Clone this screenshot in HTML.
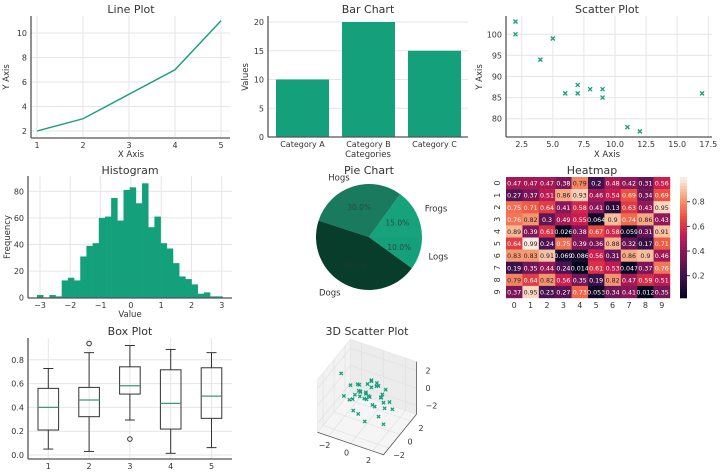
<!DOCTYPE html>
<html><head><meta charset="utf-8"><style>
html,body{margin:0;padding:0;background:#fff}
svg{display:block;font-family:"DejaVu Sans","Liberation Sans",sans-serif}
</style></head><body>
<svg id="s" width="720" height="474" viewBox="0 0 720 474"></svg>
<script>
// ---- data ----
const lineX=[1,2,3,4,5];
const lineY=[2,3,5,7,11];
const barCats=["Category A","Category B","Category C"];
const barVals=[10,20,15];
const scatX=[5,7,8,7,2,17,2,9,4,11,12,9,6];
const scatY=[99,86,87,88,100,86,103,87,94,78,77,85,86];
const histCounts=[2,0,2,1,13,15,13,31,39,41,60,61,75,58,81,83,71,86,53,61,41,37,26,16,14,10,3,4,1,1];
const histStart=-3.1, histEnd=3.02;
const pieLabels=["Frogs","Hogs","Dogs","Logs"];
const pieVals=[15,30,45,10];
const heat=[
[0.47,0.47,0.47,0.38,0.79,0.2,0.48,0.42,0.31,0.56],
[0.27,0.37,0.51,0.86,0.93,0.46,0.54,0.69,0.34,0.69],
[0.75,0.71,0.64,0.41,0.58,0.41,0.13,0.63,0.43,0.95],
[0.76,0.82,0.3,0.49,0.55,0.064,0.9,0.74,0.86,0.43],
[0.89,0.39,0.61,0.026,0.38,0.67,0.58,0.059,0.31,0.91],
[0.64,0.99,0.24,0.75,0.39,0.36,0.88,0.32,0.17,0.71],
[0.83,0.83,0.91,0.069,0.086,0.56,0.31,0.86,0.9,0.46],
[0.19,0.35,0.44,0.24,0.014,0.61,0.53,0.047,0.37,0.76],
[0.79,0.64,0.82,0.56,0.35,0.19,0.82,0.47,0.59,0.51],
[0.37,0.95,0.23,0.27,0.73,0.053,0.34,0.41,0.012,0.35]];
const boxHi=[0.727,0.86,0.92,0.887,0.86];
const boxQ3=[0.56,0.568,0.741,0.716,0.733];
const boxMed=[0.40,0.462,0.582,0.434,0.495];
const boxQ1=[0.21,0.322,0.512,0.218,0.308];
const boxLo=[0.05,0.03,0.294,0.014,0.062];
const boxOut=[[],[0.937],[0.134],[],[]];
const s3x=[-2.6,-1.5,-1,-0.5,0,0.4,0.8,1.2,-0.8,0.2,0.6,-0.3,1.0,-1.2,0.1,-0.6,0.5,1.5,2.2,-0.2,0.3,-1.6,0.9,-0.9,1.3,0.0,-0.4,0.7,-1.1,1.8,2.5,-2.0,0.4,-0.7,1.1,0.2,-0.1,1.6,-1.4,0.6];
const s3y=[0.5,-1.2,0.3,0.8,-0.5,1.0,-0.2,0.4,-0.9,0.1,1.4,-0.6,-1.0,0.9,0.6,-0.1,-1.4,0.2,-0.3,1.2,-0.8,0.0,0.7,0.4,-0.5,-1.6,1.6,0.3,-0.4,1.0,-2.0,1.8,-0.9,0.2,0.8,-0.3,0.5,-1.1,-0.2,2.2];
const s3z=[1.2,0.4,0.8,-0.3,0.2,1.0,-0.6,0.5,-1.2,0.0,-0.9,0.9,0.3,-0.5,1.5,-0.1,-1.5,-0.8,0.6,0.1,1.1,-1.0,-0.2,0.7,-1.3,-0.7,0.4,1.3,-0.4,-1.4,-0.5,-2.0,0.6,0.2,-0.8,1.8,-0.3,2.8,0.9,-0.6];

const S=document.getElementById('s');
const NS='http://www.w3.org/2000/svg';
const G='#13a07b', TXT='#333', GRID='#e6e6e6', SP='#555';
function el(tag,at,parent){const e=document.createElementNS(NS,tag);for(const k in at)e.setAttribute(k,at[k]);(parent||S).appendChild(e);return e;}
function tx(x,y,t,sz,anchor,parent,extra){const e=el('text',Object.assign({x:x,y:y,'font-size':sz,fill:TXT,'text-anchor':anchor||'middle'},extra||{}),parent);e.textContent=t;return e;}
function grp(name){const g=el('g',{});return g;}
function spines(g,l,t,r,b){el('line',{x1:l,y1:t,x2:l,y2:b,stroke:SP,'stroke-width':1.3},g);el('line',{x1:l,y1:b,x2:r,y2:b,stroke:SP,'stroke-width':1.3},g);}
function xmark(g,x,y,r,col){el('path',{d:`M${x-r},${y-r}L${x+r},${y+r}M${x-r},${y+r}L${x+r},${y-r}`,stroke:col,'stroke-width':1.3},g);}

// ---- Line plot ----
(function(){const g=grp('line-plot');
const X=v=>37+(v-1)*46, Y=v=>131-(v-2)*12.25;
const L=31,T=16,R=230,B=138;
[1,2,3,4,5].forEach(v=>{el('line',{x1:X(v),y1:T,x2:X(v),y2:B,stroke:GRID},g);tx(X(v),B+10,v,8,'middle',g);});
[2,4,6,8,10].forEach(v=>{el('line',{x1:L,y1:Y(v),x2:R,y2:Y(v),stroke:GRID},g);tx(L-4,Y(v)+3,v,8,'end',g);});
spines(g,L,T,R,B);
const p=el('polyline',{points:lineX.map((v,i)=>X(v)+','+Y(lineY[i])).join(' '),fill:'none',stroke:G,'stroke-width':1.4},g);

tx(131,13,'Line Plot',11,'middle',g);tx(131,157,'X Axis',8.5,'middle',g);
tx(9,77,'Y Axis',8.5,'middle',g,{transform:'rotate(-90 9 77)'});})();

// ---- Bar chart ----
(function(){const g=grp('bar-chart');
const Y=v=>137-v*5.75, L=268,T=16,R=468,B=137;
[0,5,10,15,20].forEach(v=>{el('line',{x1:L,y1:Y(v),x2:R,y2:Y(v),stroke:GRID},g);tx(L-4,Y(v)+3,v,8,'end',g);});
barCats.forEach((c,i)=>{const cx=302.5+i*66;
const r=el('rect',{x:cx-26.5,y:Y(barVals[i]),width:53,height:barVals[i]*5.75,fill:G},g);

tx(cx,B+10,c,8,'middle',g);});
spines(g,L,T,R,B);
tx(368,13,'Bar Chart',11,'middle',g);tx(368,157,'Categories',8.5,'middle',g);
tx(248,77,'Values',8.5,'middle',g,{transform:'rotate(-90 248 77)'});})();

// ---- Scatter ----
(function(){const g=grp('scatter-plot');
const X=v=>521.7+(v-2.5)*12.44, Y=v=>34.3-(v-100)*4.22, L=506,T=16,R=712,B=137;
[2.5,5,7.5,10,12.5,15,17.5].forEach(v=>{el('line',{x1:X(v),y1:T,x2:X(v),y2:B,stroke:GRID},g);tx(X(v),B+10,v.toFixed(1),8,'middle',g);});
[80,85,90,95,100].forEach(v=>{el('line',{x1:L,y1:Y(v),x2:R,y2:Y(v),stroke:GRID},g);tx(L-4,Y(v)+3,v,8,'end',g);});
spines(g,L,T,R,B);
scatX.forEach((v,i)=>xmark(g,X(v),Y(scatY[i]),2,G));
tx(607,13,'Scatter Plot',11,'middle',g);tx(607,157,'X Axis',8.5,'middle',g);
tx(482,77,'Y Axis',8.5,'middle',g,{transform:'rotate(-90 482 77)'});})();

// ---- Histogram ----
(function(){const g=grp('histogram');
const X=v=>40+(v+3)*30.3, Y=v=>297.7-v*1.33, L=28,T=176,R=232,B=298;
[-3,-2,-1,0,1,2,3].forEach(v=>{el('line',{x1:X(v),y1:T,x2:X(v),y2:B,stroke:GRID},g);tx(X(v),B+10,v<0?'\u2212'+(-v):v,8,'middle',g);});
[0,20,40,60,80].forEach(v=>{el('line',{x1:L,y1:Y(v),x2:R,y2:Y(v),stroke:GRID},g);tx(L-4,Y(v)+3,v,8,'end',g);});
const w=(histEnd-histStart)/histCounts.length;
histCounts.forEach((c,i)=>{if(!c)return;const x0=X(histStart+i*w),x1=X(histStart+(i+1)*w);
el('rect',{x:x0,y:Y(c),width:x1-x0+0.3,height:c*1.33,fill:G},g);});
spines(g,L,T,R,B);
tx(130,174,'Histogram',11,'middle',g);tx(130,317,'Value',8.5,'middle',g);
tx(10,237,'Frequency',8.5,'middle',g,{transform:'rotate(-90 10 237)'});})();

// ---- Pie ----
(function(){const g=grp('pie-chart');
const cx=369,cy=237,r=53;const cols=['#16a37c','#1a7a5e','#083d2c','#14a07b'];
const tot=pieVals.reduce((a,b)=>a+b,0);let a0=0;
pieVals.forEach((v,i)=>{const a1=a0+v/tot*2*Math.PI;
const p=(a)=>[cx+r*Math.cos(a),cy-r*Math.sin(a)];
const [x0,y0]=p(a0),[x1,y1]=p(a1);
el('path',{d:`M${cx},${cy}L${x0},${y0}A${r},${r} 0 ${a1-a0>Math.PI?1:0} 0 ${x1},${y1}Z`,fill:cols[i]},g);
const m=(a0+a1)/2;
tx(cx+r*0.6*Math.cos(m),cy-r*0.6*Math.sin(m)+3,(v/tot*100).toFixed(1)+'%',7.5,'middle',g,{fill:i==2?'#1a3a30':'#2a4a40'});
const lx=cx+r*1.18*Math.cos(m),ly=cy-r*1.18*Math.sin(m)+3;
tx(lx,ly,pieLabels[i],8.5,Math.cos(m)>0.1?'start':(Math.cos(m)<-0.1?'end':'middle'),g);
a0=a1;});
tx(369,174,'Pie Chart',11,'middle',g);})();

// ---- Heatmap ----
(function(){const g=grp('heatmap');
const stops=[[0,[3,5,26]],[0.2,[65,18,80]],[0.4,[135,22,88]],[0.55,[203,27,79]],[0.7,[238,84,62]],[0.85,[246,160,120]],[1,[250,235,221]]];
function cm(v){const t=Math.max(0,Math.min(1,(v-0.012)/(0.99-0.012)));for(let i=1;i<stops.length;i++){if(t<=stops[i][0]){const a=stops[i-1],b=stops[i],f=(t-a[0])/(b[0]-a[0]);return 'rgb('+a[1].map((c,k)=>Math.round(c+(b[1][k]-c)*f)).join(',')+')';}}return 'rgb(250,235,221)';}
const L=506,T=177,cw=16.4,ch=12.1;
heat.forEach((row,r)=>{row.forEach((v,c)=>{
el('rect',{x:L+c*cw,y:T+r*ch,width:cw+0.2,height:ch+0.2,fill:cm(v)},g);
tx(L+c*cw+cw/2,T+r*ch+ch/2+2.5,String(v),6.3,'middle',g,{fill:v>0.77?'#262626':'#fff'});});});
for(let i=0;i<10;i++){tx(L+i*cw+cw/2,T+10*ch+10,i,8,'middle',g);
const yy=T+i*ch+ch/2;tx(497,yy,i,8,'middle',g,{transform:`rotate(-90 497 ${yy})`,dy:3});}
for(let i=0;i<40;i++){const v=1.0-i*(0.98/40);el('rect',{x:680,y:177+i*121/40,width:7,height:121/40+0.3,fill:cm(v)},g);}
[0.2,0.4,0.6,0.8].forEach(v=>{const y=275.7-(v-0.2)*123.3;el('line',{x1:687,y1:y,x2:690,y2:y,stroke:TXT},g);tx(692,y+3,v,8,'start',g);});
tx(592,174,'Heatmap',11,'middle',g);})();

// ---- Box plot ----
(function(){const g=grp('box-plot');
const X=i=>48.3+i*40.8, Y=v=>455-v*119, L=28,T=338,R=232,B=459;
[1,2,3,4,5].forEach((v,i)=>{el('line',{x1:X(i),y1:T,x2:X(i),y2:B,stroke:GRID},g);tx(X(i),B+10,v,8,'middle',g);});
[0,0.2,0.4,0.6,0.8].forEach(v=>{el('line',{x1:L,y1:Y(v),x2:R,y2:Y(v),stroke:GRID},g);tx(L-4,Y(v)+3,v.toFixed(1),8,'end',g);});
boxMed.forEach((m,i)=>{const x=X(i),h=10.3;
el('line',{x1:x,y1:Y(boxHi[i]),x2:x,y2:Y(boxQ3[i]),stroke:'#333'},g);
el('line',{x1:x,y1:Y(boxQ1[i]),x2:x,y2:Y(boxLo[i]),stroke:'#333'},g);
el('line',{x1:x-5,y1:Y(boxHi[i]),x2:x+5,y2:Y(boxHi[i]),stroke:'#333'},g);
el('line',{x1:x-5,y1:Y(boxLo[i]),x2:x+5,y2:Y(boxLo[i]),stroke:'#333'},g);
el('rect',{x:x-h,y:Y(boxQ3[i]),width:2*h,height:Y(boxQ1[i])-Y(boxQ3[i]),fill:'none',stroke:'#333'},g);
el('line',{x1:x-h,y1:Y(m),x2:x+h,y2:Y(m),stroke:'#3a9a80','stroke-width':1.2},g);
boxOut[i].forEach(o=>el('circle',{cx:x,cy:Y(o),r:2.3,fill:'none',stroke:'#333'},g));});
spines(g,L,T,R,B);
tx(130,335,'Box Plot',11,'middle',g);})();

// ---- 3D scatter ----
(function(){const g=grp('scatter-3d');
const P=(x,y,z)=>[367+11*x+5.5*y,397+3.75*x-6.75*y-8.75*z];
const poly=(pts,fill)=>el('polygon',{points:pts.map(p=>P(...p).join(',')).join(' '),fill:fill,stroke:'#e4e4e4','stroke-width':0.6},g);
poly([[-3,-3,-3],[3,-3,-3],[3,3,-3],[-3,3,-3]],'#f5f5f5');
poly([[-3,-3,-3],[-3,3,-3],[-3,3,3],[-3,-3,3]],'#f2f2f2');
poly([[-3,3,-3],[3,3,-3],[3,3,3],[-3,3,3]],'#ececec');
[-2,0,2].forEach(v=>{let a=P(v,-3,-3),b=P(v,3,-3),c=P(v,3,3);el('polyline',{points:[a,b,c].map(p=>p.join(',')).join(' '),fill:'none',stroke:'#e0e0e0','stroke-width':0.6},g);
a=P(-3,v,-3);b=P(3,v,-3);c=P(-3,v,3);el('polyline',{points:[c,a,b].map(p=>p.join(',')).join(' '),fill:'none',stroke:'#e0e0e0','stroke-width':0.6},g);
a=P(-3,-3,v);b=P(-3,3,v);c=P(3,3,v);el('polyline',{points:[a,b,c].map(p=>p.join(',')).join(' '),fill:'none',stroke:'#e0e0e0','stroke-width':0.6},g);});
let a=P(-3,-3,-3),b=P(3,-3,-3),c=P(3,3,-3);el('polyline',{points:[a,b,c].map(p=>p.join(',')).join(' '),fill:'none',stroke:'#555','stroke-width':0.8},g);
a=P(3,3,-3);b=P(3,3,3);el('line',{x1:a[0],y1:a[1],x2:b[0],y2:b[1],stroke:'#555','stroke-width':0.8},g);
s3x.forEach((v,i)=>{const p=P(v,s3y[i],s3z[i]);xmark(g,p[0],p[1],1.6,G);});
[-2,0,2].forEach(v=>{let p=P(v,-3,-3);tx(p[0]-4,p[1]+12,v<0?'\u2212'+(-v):v,8,'middle',g);
p=P(3,v,-3);tx(p[0]+10,p[1]+10,v<0?'\u2212'+(-v):v,8,'middle',g);
p=P(3,3,v);tx(p[0]+9,p[1]+3,v<0?'\u2212'+(-v):v,8,'start',g);});
tx(367,335,'3D Scatter Plot',11,'middle',g);})();
</script>
</body></html>
